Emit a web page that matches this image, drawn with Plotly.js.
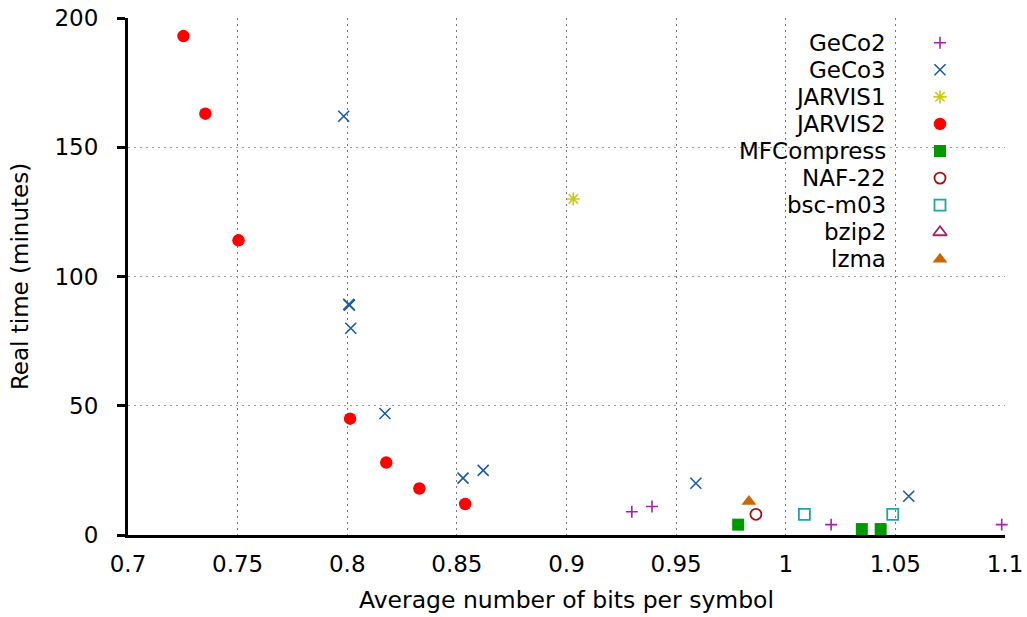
<!DOCTYPE html>
<html><head><meta charset="utf-8">
<script src="https://cdn.plot.ly/plotly-3.0.1.min.js"></script>
<style>html,body{margin:0;padding:0;background:#fff}#chart{width:1027px;height:617px}</style>
</head><body><div id="chart"></div>
<script>
// ---- data ----
const seriesNames = ['GeCo2','GeCo3','JARVIS1','JARVIS2','MFCompress','NAF-22','bsc-m03','bzip2','lzma'];
const geco2Bps = [0.9298, 0.939, 1.0207, 1.0985];
const geco2Time = [9, 11, 4, 4];
const geco3Bps = [0.7984, 0.8007, 0.8010, 0.8016, 0.8172, 0.8528, 0.862, 0.959, 1.0561];
const geco3Time = [162, 89.2, 88.9, 80, 47, 22, 25, 20, 15];
const jarvis1Bps = [0.9031];
const jarvis1Time = [130];
const jarvis2Bps = [0.7253, 0.7353, 0.7504, 0.8013, 0.8178, 0.8329, 0.8538];
const jarvis2Time = [193, 163, 114, 45, 28, 18, 12];
const mfcompressBps = [0.9783, 1.0347, 1.0433];
const mfcompressTime = [4, 2.3, 2.3];
const naf22Bps = [0.9864];
const naf22Time = [8];
const bscBps = [1.0085, 1.0488];
const bscTime = [8, 8];
const bzip2Bps = [];
const bzip2Time = [];
const lzmaBps = [0.9832];
const lzmaTime = [13];
const xTickVals = [0.7, 0.75, 0.8, 0.85, 0.9, 0.95, 1, 1.05, 1.1];
const xTickText = ['0.7', '0.75', '0.8', '0.85', '0.9', '0.95', '1', '1.05', '1.1'];
const yTickVals = [0, 50, 100, 150, 200];

// ---- styles ----
const dataByName = {
  'GeCo2': [geco2Bps, geco2Time],
  'GeCo3': [geco3Bps, geco3Time],
  'JARVIS1': [jarvis1Bps, jarvis1Time],
  'JARVIS2': [jarvis2Bps, jarvis2Time],
  'MFCompress': [mfcompressBps, mfcompressTime],
  'NAF-22': [naf22Bps, naf22Time],
  'bsc-m03': [bscBps, bscTime],
  'bzip2': [bzip2Bps, bzip2Time],
  'lzma': [lzmaBps, lzmaTime]
};
const styles = {
  'GeCo2': {color: '#a321b0', symbol: 'cross-thin-open', size: 8.5, lw: 1.6},
  'GeCo3': {color: '#1b5aa8', symbol: 'x-thin-open', size: 11, lw: 1.6},
  'JARVIS1': {color: '#cbcb14', symbol: 'asterisk-open', size: 11, lw: 1.6},
  'JARVIS2': {color: '#ff0000', symbol: 'circle', size: 12.5, lw: 0},
  'MFCompress': {color: '#009a00', symbol: 'square', size: 12, lw: 0},
  'NAF-22': {color: '#a51212', symbol: 'circle-open', size: 11, lw: 1.8},
  'bsc-m03': {color: '#22a3a3', symbol: 'square-open', size: 11, lw: 1.8},
  'bzip2': {color: '#a3236e', symbol: 'triangle-up-open', size: 12, lw: 1.8},
  'lzma': {color: '#cc6600', symbol: 'triangle-up', size: 13, lw: 0}
};

const FONT = 'DejaVu Sans, Liberation Sans, sans-serif';
const FS = 23;
const W = 1027, H = 617;
const M = {l: 128, r: 22, t: 18, b: 82};
const plotW = W - M.l - M.r, plotH = H - M.t - M.b;

const traces = [];
seriesNames.forEach(n => {
  const s = styles[n];
  const d = dataByName[n];
  traces.push({
    type: 'scatter', mode: 'markers', name: n, x: d[0], y: d[1],
    showlegend: false, cliponaxis: false,
    marker: {symbol: s.symbol, size: s.size, color: s.color,
             line: {color: s.color, width: s.lw}}
  });
});

// ---- custom legend (text left, symbol right) ----
const legTextRight = 888, legSymX = 940, legTop = 42.7, legStep = 27.08;
const annotations = [];
seriesNames.forEach((n, i) => {
  const s = styles[n];
  const yc = legTop + legStep * i;
  annotations.push({
    xref: 'paper', yref: 'paper', x: (legTextRight - M.l) / plotW, y: (H - M.b - yc) / plotH,
    xanchor: 'right', yanchor: 'middle', showarrow: false, text: n,
    font: {family: FONT, size: FS, color: '#000'}
  });
  traces.push({
    type: 'scatter', mode: 'markers', xaxis: 'x2', yaxis: 'y2', showlegend: false,
    hoverinfo: 'skip', cliponaxis: false,
    x: [(legSymX - M.l) / plotW], y: [(H - M.b - yc) / plotH],
    marker: {symbol: s.symbol, size: s.size, color: s.color,
             line: {color: s.color, width: s.lw}}
  });
});

const layout = {
  width: W, height: H,
  margin: M,
  paper_bgcolor: '#fff', plot_bgcolor: '#fff',
  showlegend: false,
  font: {family: FONT, size: FS, color: '#000'},
  xaxis: {
    range: [0.7, 1.1], tickvals: xTickVals, ticktext: xTickText,
    showline: true, linecolor: '#000', linewidth: 3, ticks: '',
    ticklabelstandoff: 6,
    showgrid: true, gridcolor: '#777', griddash: '1.5px,4.5px', gridwidth: 1,
    zeroline: false,
    title: {text: 'Average number of bits per symbol', font: {family: FONT, size: 23.5}, standoff: 16}
  },
  yaxis: {
    range: [0, 200], tickvals: yTickVals,
    showline: true, linecolor: '#000', linewidth: 3,
    ticks: 'outside', ticklen: 8, tickwidth: 3, tickcolor: '#000',
    ticklabelstandoff: 14,
    showgrid: true, gridcolor: '#999', griddash: '1.5px,4.5px', gridwidth: 1,
    zeroline: false,
    title: {text: 'Real time (minutes)', font: {family: FONT, size: FS}, standoff: 20}
  },
  xaxis2: {overlaying: 'x', range: [0, 1], visible: false, fixedrange: true},
  yaxis2: {overlaying: 'y', range: [0, 1], visible: false, fixedrange: true},
  annotations: annotations
};

Plotly.newPlot('chart', traces, layout, {staticPlot: true, displayModeBar: false});
</script>
</body></html>
